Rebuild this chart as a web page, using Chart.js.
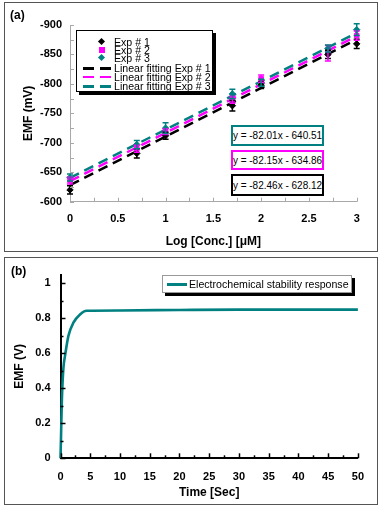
<!DOCTYPE html>
<html>
<head>
<meta charset="utf-8">
<script src="https://cdn.jsdelivr.net/npm/chart.js@4.4.1/dist/chart.umd.min.js"></script>
<style>
body { margin:0; width:390px; height:521px; background:#fff; position:relative; overflow:hidden;
       font-family:"Liberation Sans", Arial, sans-serif; color:#000; }
.frame { position:absolute; border:1.5px solid #555; box-sizing:border-box; }
.abs { position:absolute; }
.tag { position:absolute; font-weight:bold; font-size:12px; }
.legend { position:absolute; border:1.5px solid #000; box-sizing:border-box; background:#fff; box-shadow:3px 3px 0 #000; }
.row { position:absolute; left:37px; font-size:10.6px; line-height:10px; white-space:nowrap; transform:translateY(-5px); }
.mk { position:absolute; }
.dash { position:absolute; height:2.5px; }
.eq { position:absolute; left:231px; width:93px; border:2px solid; box-sizing:border-box; background:#fff;
      font-size:10px; display:flex; align-items:center; justify-content:center; white-space:nowrap; }
</style>
</head>
<body>
<div class="frame" style="left:4px;top:2px;width:374px;height:250px;"></div>
<div class="frame" style="left:4px;top:257px;width:374px;height:248px;"></div>
<canvas id="chartA" class="abs" width="371" height="248" style="left:5px;top:3px;"></canvas>
<canvas id="chartB" class="abs" width="371" height="245" style="left:5px;top:258px;"></canvas>
<div class="tag" style="left:10px;top:8px;">(a)</div>
<div class="tag" style="left:11px;top:264px;">(b)</div>

<div class="legend" style="left:76px;top:30px;width:137px;height:62px;">
  <div class="mk" style="left:21.5px;top:7.5px;width:5px;height:5px;background:#000;transform:rotate(45deg);"></div>
  <div class="row" style="top:10.7px;">Exp # 1</div>
  <div class="mk" style="left:21.5px;top:16px;width:6px;height:6px;background:#ff00ff;"></div>
  <div class="row" style="top:19px;">Exp # 2</div>
  <div class="mk" style="left:21.5px;top:24px;width:5px;height:5px;background:#008080;transform:rotate(45deg);"></div>
  <div class="row" style="top:27px;">Exp # 3</div>
  <div class="dash" style="left:6px;top:36px;width:11px;background:#000;"></div>
  <div class="dash" style="left:23px;top:36px;width:11px;background:#000;"></div>
  <div class="row" style="top:37.3px;">Linear fitting Exp # 1</div>
  <div class="dash" style="left:6px;top:44.5px;width:11px;background:#ff00ff;"></div>
  <div class="dash" style="left:23px;top:44.5px;width:11px;background:#ff00ff;"></div>
  <div class="row" style="top:45.7px;">Linear fitting Exp # 2</div>
  <div class="dash" style="left:6px;top:54px;width:11px;background:#008080;"></div>
  <div class="dash" style="left:23px;top:54px;width:11px;background:#008080;"></div>
  <div class="row" style="top:55.3px;">Linear fitting Exp # 3</div>
</div>

<div class="eq" style="top:125px;height:21px;border-color:#008080;">y = -82.01x - 640.51</div>
<div class="eq" style="top:150px;height:20px;border-color:#ff00ff;">y = -82.15x - 634.86</div>
<div class="eq" style="top:174px;height:22px;border-color:#000;">y = -82.46x - 628.12</div>

<div class="legend" style="left:162px;top:275px;width:190px;height:17.5px;border:1px solid #999;">
  <div class="abs" style="left:4px;top:7px;width:20px;height:3px;background:#008080;"></div>
  <div class="abs" style="left:26px;top:1px;font-size:10.6px;line-height:14px;white-space:nowrap;">Electrochemical stability response</div>
</div>

<script>
// (a) calibration data
const logConc = [0, 0.699, 1, 1.699, 2, 2.699, 3];
const exp1 = [-620, -682, -712, -763, -798, -850, -868];
const exp2 = [-636, -690, -719, -773, -809, -852, -882];
const exp3 = [-641, -697, -725, -783, -802, -860, -892];
const err1 = [7, 8, 6, 9, 6, 7, 8];
const err2 = [6, 6, 5, 6, 6, 13, 8];
const err3 = [6, 7, 9, 8, 6, 6, 10];
const fitX = [0, 3];
const fit1 = [-628.12, -875.50];
const fit2 = [-634.86, -881.31];
const fit3 = [-640.51, -886.54];

// (b) stability response
const timeSec = [0, 0.1, 0.23, 0.33, 0.5, 0.78, 1.33, 2.17, 3.28, 4.4, 10, 20, 30, 40, 50];
const emfV = [0, 0.14, 0.33, 0.42, 0.52, 0.59, 0.70, 0.775, 0.822, 0.843, 0.845, 0.848, 0.85, 0.85, 0.85];

const BLACK = '#000000', MAGENTA = '#ff00ff', TEAL = '#008080';

Chart.defaults.font.family = '"Liberation Sans", Arial, sans-serif';
Chart.defaults.color = '#000';

function pts(xs, ys) { return xs.map((x, i) => ({x: x, y: ys[i]})); }
function fmt(v) { return String(+v.toFixed(2)); }

const errorBars = {
    id: 'errorBars',
    afterDatasetsDraw(chart) {
        const ctx = chart.ctx;
        const xs = chart.scales.x, ys = chart.scales.y;
        ctx.save();
        chart.data.datasets.forEach(ds => {
            if (!ds.errors) return;
            ctx.strokeStyle = ds.borderColor;
            ctx.lineWidth = 1.5;
            ds.data.forEach((p, i) => {
                const px = xs.getPixelForValue(p.x);
                const top = ys.getPixelForValue(p.y - ds.errors[i]);
                const bot = ys.getPixelForValue(p.y + ds.errors[i]);
                ctx.beginPath();
                ctx.moveTo(px, top); ctx.lineTo(px, bot);
                ctx.moveTo(px - 3, top); ctx.lineTo(px + 3, top);
                ctx.moveTo(px - 3, bot); ctx.lineTo(px + 3, bot);
                ctx.stroke();
            });
        });
        ctx.restore();
    }
};

const insideTicks = {
    id: 'insideTicks',
    afterDraw(chart, args, o) {
        const ctx = chart.ctx;
        const xs = chart.scales.x, ys = chart.scales.y;
        const area = chart.chartArea;
        ctx.save();
        ctx.strokeStyle = o.color;
        ctx.lineWidth = o.width;
        const isMajor = (v, m) => Math.abs(v / m - Math.round(v / m)) < 1e-6;
        for (let v = xs.min; v <= xs.max + 1e-9; v += o.xStep) {
            const px = Math.round(xs.getPixelForValue(v)) + 0.5;
            const len = isMajor(v, o.xMajor) ? o.majorLen : o.minorLen;
            ctx.beginPath(); ctx.moveTo(px, area.bottom); ctx.lineTo(px, area.bottom - len); ctx.stroke();
        }
        const yMin = Math.min(ys.min, ys.max), yMax = o.yTop !== undefined ? o.yTop : Math.max(ys.min, ys.max);
        for (let v = yMin; v <= yMax + 1e-9; v += o.yStep) {
            const py = Math.round(ys.getPixelForValue(v)) + 0.5;
            const len = isMajor(v, o.yMajor) ? o.majorLen : o.minorLen;
            ctx.beginPath(); ctx.moveTo(area.left, py); ctx.lineTo(area.left + len, py); ctx.stroke();
        }
        ctx.restore();
    }
};

function axisFont(size) { return {size: size, weight: 'bold'}; }

new Chart(document.getElementById('chartA'), {
    type: 'scatter',
    data: {
        datasets: [
            {data: pts(logConc, exp1), errors: err1, borderColor: BLACK, backgroundColor: BLACK, pointStyle: 'rectRot', pointRadius: 3.2, order: 0, clip: false},
            {data: pts(logConc, exp2), errors: err2, borderColor: MAGENTA, backgroundColor: MAGENTA, pointStyle: 'rect', pointRadius: 3.2, order: 0, clip: false},
            {data: pts(logConc, exp3), errors: err3, borderColor: TEAL, backgroundColor: TEAL, pointStyle: 'rectRot', pointRadius: 3.2, order: 0, clip: false},
            {data: pts(fitX, fit3), showLine: true, borderColor: TEAL, borderWidth: 2.5, borderDash: [10, 6], pointRadius: 0, order: 1, clip: false},
            {data: pts(fitX, fit2), showLine: true, borderColor: MAGENTA, borderWidth: 2.5, borderDash: [10, 6], pointRadius: 0, order: 2, clip: false},
            {data: pts(fitX, fit1), showLine: true, borderColor: BLACK, borderWidth: 2.5, borderDash: [10, 6], pointRadius: 0, order: 3, clip: false}
        ]
    },
    options: {
        responsive: false,
        animation: false,
        events: [],
        layout: {padding: {top: 22, right: 19.3, bottom: 0, left: 0}},
        plugins: {
            legend: {display: false},
            tooltip: {enabled: false},
            insideTicks: {color: '#a8a8a8', width: 1, xStep: 0.25, xMajor: 0.5, yStep: 25, yMajor: 50, majorLen: 4, minorLen: 4}
        },
        scales: {
            x: {
                type: 'linear', min: 0, max: 3,
                ticks: {stepSize: 0.5, padding: 11, font: axisFont(11), callback: fmt},
                grid: {display: false, drawTicks: false},
                border: {display: true, color: '#a8a8a8', width: 1},
                title: {display: true, text: 'Log [Conc.] [μM]', font: axisFont(12), padding: {top: 0, bottom: 2}},
                afterFit: s => { s.height = 49.3; }
            },
            y: {
                type: 'linear', min: -900, max: -600, reverse: true,
                ticks: {stepSize: 50, padding: 8, font: axisFont(11)},
                grid: {display: false, drawTicks: false},
                border: {display: true, color: '#a8a8a8', width: 1},
                title: {display: true, text: 'EMF (mV)', font: axisFont(12), padding: {top: 16, bottom: 0}},
                afterFit: s => { s.width = 65; }
            }
        }
    },
    plugins: [errorBars, insideTicks]
});

new Chart(document.getElementById('chartB'), {
    type: 'scatter',
    data: {
        datasets: [
            {data: pts(timeSec, emfV), showLine: true, borderColor: TEAL, borderWidth: 2.6, pointRadius: 0, cubicInterpolationMode: 'monotone', clip: false}
        ]
    },
    options: {
        responsive: false,
        animation: false,
        events: [],
        layout: {padding: {top: 13.1, right: 16, bottom: 0, left: 0}},
        plugins: {
            legend: {display: false},
            tooltip: {enabled: false},
            insideTicks: {color: '#000', width: 1.5, xStep: 2.5, xMajor: 5, yStep: 0.1, yMajor: 0.2, yTop: 1, majorLen: 5, minorLen: 3}
        },
        scales: {
            x: {
                type: 'linear', min: 0, max: 50,
                ticks: {stepSize: 5, padding: 12, font: axisFont(11), callback: fmt},
                grid: {display: false, drawTicks: false},
                border: {display: true, color: '#000', width: 2},
                title: {display: true, text: 'Time [Sec]', font: axisFont(12), padding: {top: 0, bottom: 3}},
                afterFit: s => { s.height = 44.7; }
            },
            y: {
                type: 'linear', min: 0, max: 1.05,
                ticks: {stepSize: 0.2, includeBounds: false, padding: 10, font: axisFont(11), callback: fmt},
                grid: {display: false, drawTicks: false},
                border: {display: true, color: '#000', width: 2},
                title: {display: true, text: 'EMF (V)', font: axisFont(12), padding: {top: 7, bottom: 0}},
                afterFit: s => { s.width = 55.5; }
            }
        }
    },
    plugins: [insideTicks]
});
</script>
</body>
</html>
